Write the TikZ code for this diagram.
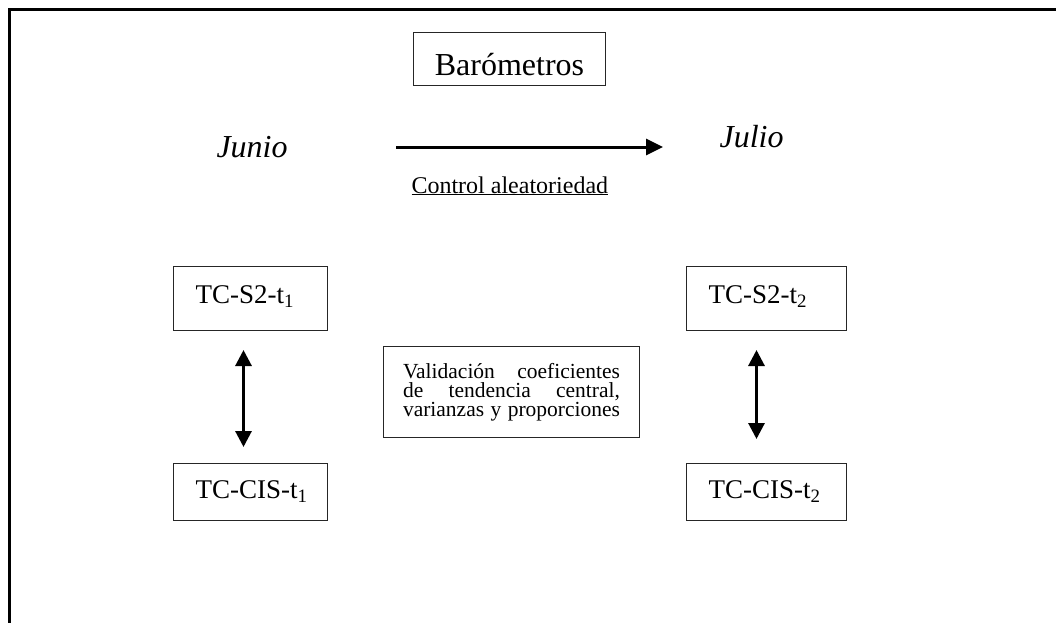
\documentclass[tikz,border=0pt]{standalone}
\usepackage{fontspec}
\setmainfont{Liberation Serif}
\usetikzlibrary{positioning,arrows.meta}

\tikzset{
  box/.style={draw=black!85, line width=1pt, inner ysep=0pt},
  tcbox/.style={box, align=left, inner xsep=22pt, font=\fontsize{27}{32}\selectfont},
  bigarrow/.style={line width=3pt, -{Triangle[length=17pt,width=16pt]}},
  dblarrow/.style={line width=3pt, {Triangle[length=16pt,width=16pt]}-{Triangle[length=16pt,width=16pt]}},
}

\begin{document}
\begin{tikzpicture}[x=1pt, y=-1pt, node distance={132pt}]

        \useasboundingbox (0,0) rectangle (1056,623);
        \draw[line width=3pt] (1056,10) -- (9,10) -- (9,623);

        \node (baro) [box, anchor=north west, minimum width=192pt, text height=43pt, text depth=10pt,
          font=\fontsize{32}{38}\selectfont] at (413,32) {Barómetros};

        \node (junio) [anchor=base west, font=\fontsize{32}{38}\selectfont\itshape] at (213,157) {Junio};
        \node (julio) [anchor=base west, font=\fontsize{32}{38}\selectfont\itshape] at (716,147) {Julio};
        \coordinate (arrL) at (396,147);
        \coordinate (arrR) at (663,147);
        \node (control) [anchor=base west, font=\fontsize{24}{28}\selectfont] at (408,193) {\underline{Control aleatoriedad}};

        \node (s2a) [tcbox, anchor=north west, text width=110pt, text height=37pt, text depth=27pt] at (173,266) {\mbox{TC-S2-t\textsubscript{1}}};
        \node (cisa) [tcbox, below=132pt of s2a, text width=110pt, text height=35pt, text depth=22pt] {\mbox{TC-CIS-t\textsubscript{1}}};

        \node (s2b) [tcbox, anchor=north west, text width=116pt, text height=37pt, text depth=27pt] at (686,266) {\mbox{TC-S2-t\textsubscript{2}}};
        \node (cisb) [tcbox, below=132pt of s2b, text width=116pt, text height=35pt, text depth=22pt] {\mbox{TC-CIS-t\textsubscript{2}}};

        \node (valid) [box, anchor=north west, align=left, inner xsep=19.5pt, text width=217pt,
          text height=32pt, text depth=59pt, font=\fontsize{21.5}{18.8}\selectfont] at (383,346)
          {\makebox[217pt]{Validación\hfill coeficientes}\\
           \makebox[217pt]{de\hfill tendencia\hfill central,}\\
           \makebox[217pt]{varianzas\hfill y\hfill proporciones}};

        \draw[bigarrow] (arrL) -- (arrR);
        \draw[dblarrow, shorten <=19pt, shorten >=16pt] ([xshift=-7pt]s2a.south) -- ([xshift=-7pt]cisa.north);
        \draw[dblarrow, shorten <=19pt, shorten >=24pt] ([xshift=-10pt]s2b.south) -- ([xshift=-10pt]cisb.north);

      \end{tikzpicture}
\end{document}
